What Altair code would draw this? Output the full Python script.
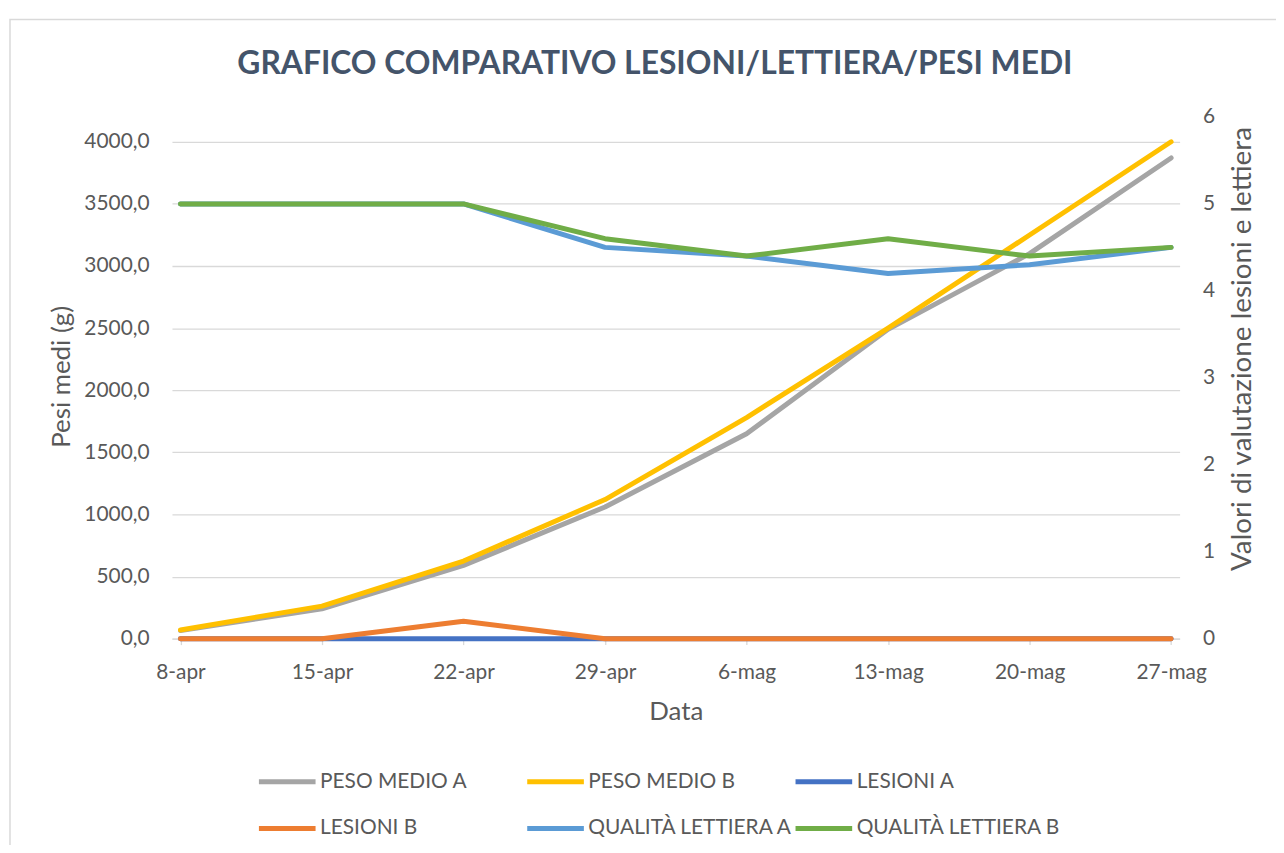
import altair as alt
import pandas as pd

# ---- data ----
dates = ["8-apr", "15-apr", "22-apr", "29-apr", "6-mag", "13-mag", "20-mag", "27-mag"]
peso_a = [65, 240, 590, 1060, 1650, 2490, 3100, 3870]
peso_b = [70, 262, 625, 1120, 1780, 2500, 3250, 4000]
lesioni_a = [0, 0, 0, 0, 0, 0, 0, 0]
lesioni_b = [0, 0, 0.2, 0, 0, 0, 0, 0]
qualita_a = [5, 5, 5, 4.5, 4.4, 4.2, 4.3, 4.5]
qualita_b = [5, 5, 5, 4.6, 4.4, 4.6, 4.4, 4.5]

series_names = ["PESO MEDIO A", "PESO MEDIO B", "LESIONI A", "LESIONI B",
                "QUALITÀ LETTIERA A", "QUALITÀ LETTIERA B"]
series_colors = ["#A5A5A5", "#FFC000", "#4472C4", "#ED7D31", "#5B9BD5", "#70AD47"]
left_ticks = [0, 500, 1000, 1500, 2000, 2500, 3000, 3500, 4000]
right_ticks = [0, 1, 2, 3, 4, 5, 6]


def long_table(pairs):
    rows = []
    for name, vals in pairs:
        for i, (d, v) in enumerate(zip(dates, vals)):
            rows.append({"Data": d, "serie": name, "valore": v, "ord": i})
    return pd.DataFrame(rows)


left_df = long_table([("PESO MEDIO A", peso_a), ("PESO MEDIO B", peso_b)])
right_df = long_table([("LESIONI A", lesioni_a), ("LESIONI B", lesioni_b),
                       ("QUALITÀ LETTIERA A", qualita_a), ("QUALITÀ LETTIERA B", qualita_b)])

FONT = "Lato"
TXT = "#595959"
GRID = "#D9D9D9"

legend = alt.Legend(
    title=None, orient="none", legendX=85, legendY=657, direction="horizontal",
    columns=3, symbolType="M-1,0H5", symbolSize=361, symbolStrokeWidth=5,
    labelFont=FONT, labelFontSize=21, labelColor=TXT, labelOffset=40,
    gridAlign="all", columnPadding=-9, rowPadding=25, labelLimit=400,
)
color = alt.Color("serie:N", scale=alt.Scale(domain=series_names, range=series_colors),
                  legend=legend)

x = alt.X(
    "Data:N", sort=dates, scale=alt.Scale(type="point", padding=0.06),
    axis=alt.Axis(title="Data", labelAngle=0, domainColor=GRID, domainWidth=1.3,
                  tickColor=GRID, tickWidth=1.3, tickSize=6, labelPadding=17,
                  grid=False, titleY=73, titleBaseline="middle"),
)

line_kw = dict(strokeWidth=5, strokeCap="round", strokeJoin="round")

left = alt.Chart(left_df).mark_line(**line_kw).encode(
    x=x,
    y=alt.Y("valore:Q", scale=alt.Scale(domain=[0, 4200], nice=False, zero=True),
            axis=alt.Axis(orient="left", title="Pesi medi (g)", values=left_ticks,
                          labelExpr="replace(format(datum.value, '.1f'), '.', ',')",
                          grid=True, gridColor=GRID, gridWidth=1.3, domain=False, ticks=False,
                          labelPadding=23, titleX=-111, titleY=261, titleAngle=270,
                          titleAlign="center", titleBaseline="middle")),
    color=color,
    order=alt.Order("ord:Q"),
)

right = alt.Chart(right_df).mark_line(**line_kw).encode(
    x=x,
    y=alt.Y("valore:Q", scale=alt.Scale(domain=[0, 6], nice=False, zero=True),
            axis=alt.Axis(orient="right", title="Valori di valutazione lesioni e lettiera",
                          values=right_ticks, format="d", grid=False, domain=False,
                          ticks=False, labelPadding=23, labelAlign="left",
                          titleX=63, titleY=233, titleAngle=270, titleFontSize=28,
                          titleAlign="center", titleBaseline="middle")),
    color=color,
    order=alt.Order("ord:Q"),
)

frame = alt.Chart(pd.DataFrame({"k": [1]})).mark_rect(
    fill=None, stroke=GRID, strokeWidth=1.5
).encode(x=alt.value(-163), x2=alt.value(1130), y=alt.value(-98), y2=alt.value(760))

chart = alt.layer(frame, left, right).resolve_scale(y="independent").properties(
    width=1014, height=525,
    background="white",
    autosize=alt.AutoSizeParams(type="none"),
    padding={"left": 165, "top": 107, "right": 97, "bottom": 205},
    title=alt.Title("GRAFICO COMPARATIVO LESIONI/LETTIERA/PESI MEDI", font=FONT,
                    fontSize=32, fontWeight="bold", color="#44546A", anchor="middle",
                    dx=-21, offset=-88, baseline="alphabetic"),
).configure_view(stroke=None).configure_axis(
    labelFont=FONT, labelFontSize=21, labelColor=TXT,
    titleFont=FONT, titleFontSize=26, titleColor=TXT, titleFontWeight="normal",
)

chart.save("out.html", embed_options={"renderer": "svg", "actions": False})
